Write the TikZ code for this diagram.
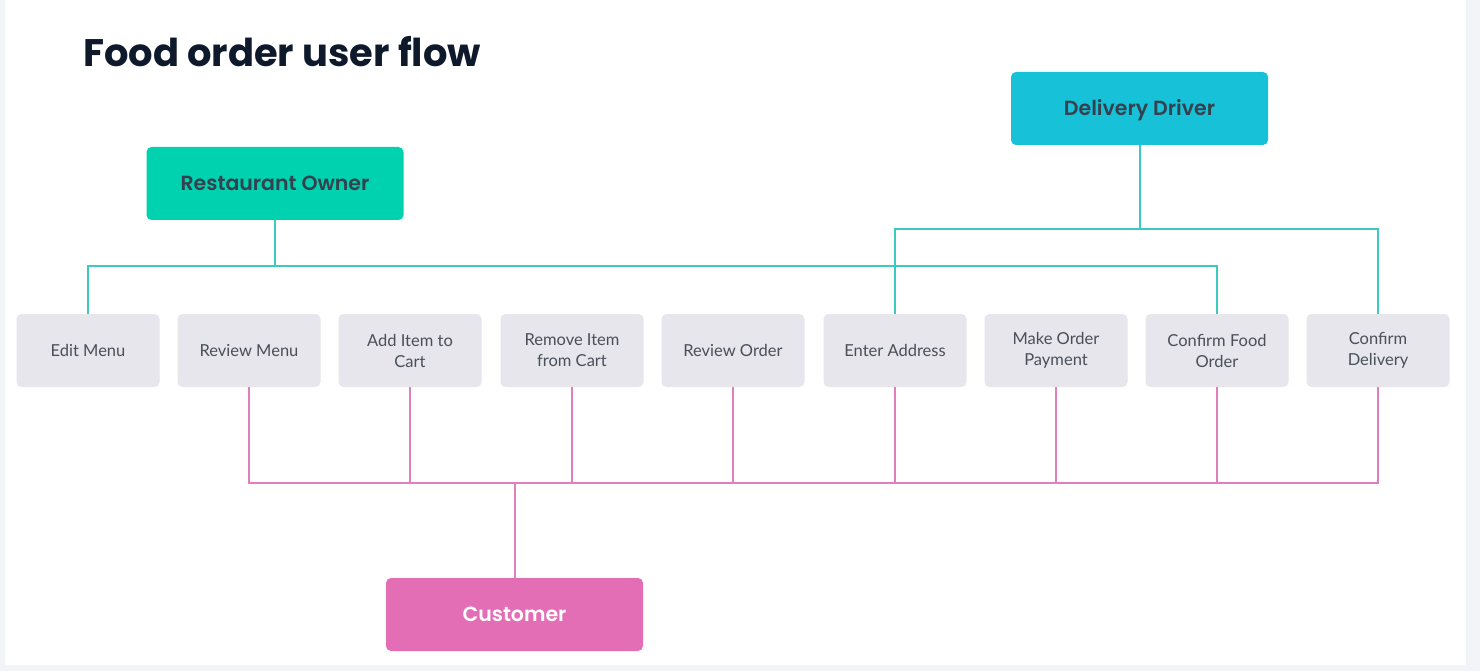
\documentclass[tikz,border=0pt]{standalone}
\usepackage{fontspec}
\setmainfont{Lato}
\newfontfamily\poppins{Poppins}
\newfontfamily\poppinssemi{Poppins SemiBold}
\definecolor{ownergreen}{HTML}{00D1AF}
\definecolor{drivercyan}{HTML}{17C2D9}
\definecolor{customerpink}{HTML}{E46EB5}
\definecolor{stepgray}{HTML}{E6E6EC}
\definecolor{steptext}{HTML}{4A4F5A}
\definecolor{roletext}{HTML}{34424F}
\definecolor{titleink}{HTML}{0E1A2B}
\definecolor{tealwire}{HTML}{3CC9C2}
\definecolor{pinkwire}{HTML}{E27DBE}
\definecolor{edgegray}{HTML}{F2F4F7}
\tikzset{
  rolebox/.style={rounded corners=5pt, minimum width=257pt, minimum height=73pt,
    inner sep=0pt, text height=14pt, text depth=0pt,
    font=\poppinssemi\fontsize{20.5}{24}\selectfont, text=roletext},
  stepbox/.style={fill=stepgray, rounded corners=5pt, minimum width=143pt,
    minimum height=73pt, inner sep=0pt, align=center, text=steptext,
    font=\fontsize{16.5}{21}\selectfont},
  tealwire/.style={draw=tealwire, line width=2pt},
  pinkwire/.style={draw=pinkwire, line width=2pt}
}
\begin{document}
\begin{tikzpicture}[x=1pt, y=-1pt]
  % background and page frame
  \useasboundingbox (0,0) rectangle (1480,671);
  \fill[edgegray] (0,0) rectangle (1480,671);
  \fill[white] (5,0) rectangle (1466,665);

  % title
  \node[anchor=base west, inner sep=0pt, text=titleink,
        font=\poppins\bfseries\fontsize{38.4}{46}\selectfont] (title) at (83,67) {Food order user flow};

  % role boxes
  \node[rolebox, fill=ownergreen] (owner) at (275,183.5) {Restaurant Owner};
  \node[rolebox, fill=drivercyan] (driver) at (1139.5,108.5) {Delivery Driver};
  \node[rolebox, fill=customerpink, text=white] (customer) at (514.5,614.5) {Customer};

  % step boxes
  \foreach \i/\x/\txt in {1/88/Edit Menu, 2/249/Review Menu, 3/410/Add Item to\\Cart,
      4/572/Remove Item\\from Cart, 5/733/Review Order, 6/895/Enter Address,
      7/1056/Make Order\\Payment, 8/1217/Confirm Food\\Order, 9/1378/Confirm\\Delivery} {
    \node[stepbox] (s\i) at (\x,350.5) {\txt};
  }

  % bus junctions
  \coordinate (ownerbus) at (275,266);
  \coordinate (driverbus) at (1139.5,229);
  \coordinate (customerbus) at (514.5,483);

  % restaurant owner links
  \draw[tealwire] (owner.south) -- (ownerbus);
  \draw[tealwire] (s1.north) |- (ownerbus) -| (s8.north);

  % delivery driver links
  \draw[tealwire] (driver.south) -- (driverbus);
  \draw[tealwire] (s6.north) |- (driverbus) -| (s9.north);

  % customer links
  \draw[pinkwire] (customer.north) -- (customerbus);
  \draw[pinkwire] (s2.south) |- (customerbus) -| (s9.south);
  \foreach \i in {3,...,8} {
    \draw[pinkwire] (s\i.south) -- (s\i.south |- customerbus);
  }
\end{tikzpicture}
\end{document}
